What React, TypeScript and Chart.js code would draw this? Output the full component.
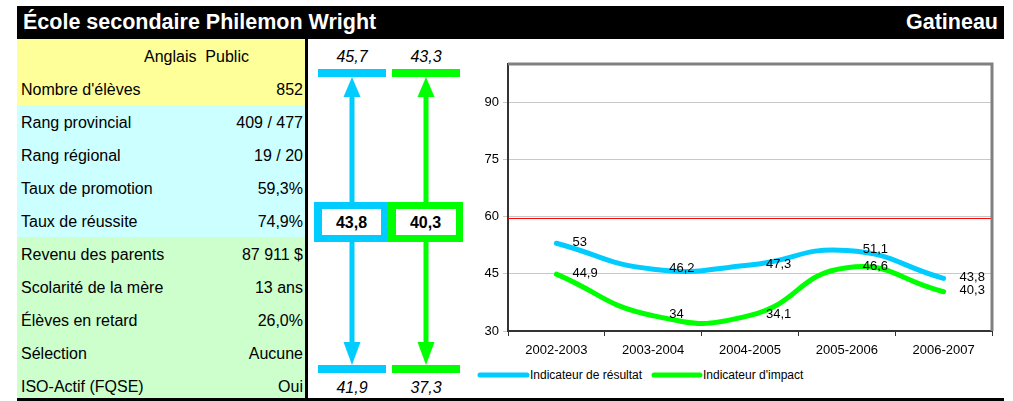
import React, { useEffect, useRef } from "react";
import { Chart, registerables } from "chart.js";

Chart.register(...registerables);

// ---------- data ----------
const schoolName = "École secondaire Philemon Wright";
const region = "Gatineau";
const headerLabel = "Anglais  Public";
const tableLabels = [
  "Nombre d'élèves",
  "Rang provincial",
  "Rang régional",
  "Taux de promotion",
  "Taux de réussite",
  "Revenu des parents",
  "Scolarité de la mère",
  "Élèves en retard",
  "Sélection",
  "ISO-Actif (FQSE)",
];
const tableValues = [
  "852",
  "409 / 477",
  "19 / 20",
  "59,3%",
  "74,9%",
  "87 911 $",
  "13 ans",
  "26,0%",
  "Aucune",
  "Oui",
];
const tableColors = [
  "#FFFF99",
  "#CCFFFF",
  "#CCFFFF",
  "#CCFFFF",
  "#CCFFFF",
  "#CCFFCC",
  "#CCFFCC",
  "#CCFFCC",
  "#CCFFCC",
  "#CCFFCC",
];

const indicatorUpper = [45.7, 43.3];
const indicatorCurrent = [43.8, 40.3];
const indicatorLower = [41.9, 37.3];

const categories = ["2002-2003", "2003-2004", "2004-2005", "2005-2006", "2006-2007"];
const resultat = [53, 46.2, 47.3, 51.1, 43.8];
const impact = [44.9, 34, 34.1, 46.6, 40.3];
const seriesNames = ["Indicateur de résultat", "Indicateur d'impact"];
const seriesColors = ["#00CCFF", "#00FF00"];
const yTicks = [30, 45, 60, 75, 90];
const yMin = 30;
const yMax = 100;
const referenceLine = 59.5;

const FONT = "'Liberation Sans', Arial, Helvetica, sans-serif";
const fmt = (v: number) => String(v).replace(".", ",");

const LineChart: React.FC = () => {
  const ref = useRef<HTMLCanvasElement | null>(null);
  useEffect(() => {
    if (!ref.current) return;
    const labelPlugin = {
      id: "valueLabels",
      afterDatasetsDraw(chart: any) {
        const ctx = chart.ctx;
        ctx.save();
        ctx.font = `13px ${FONT}`;
        ctx.fillStyle = "#000";
        ctx.textAlign = "left";
        ctx.textBaseline = "middle";
        chart.data.datasets.forEach((ds: any, i: number) => {
          const meta = chart.getDatasetMeta(i);
          meta.data.forEach((pt: any, j: number) => {
            ctx.fillText(fmt(ds.data[j]), pt.x + 16, pt.y - 1);
          });
        });
        ctx.restore();
      },
    };
    const framePlugin = {
      id: "frame",
      beforeDatasetsDraw(chart: any) {
        const { ctx, chartArea, scales } = chart;
        const y = scales.y.getPixelForValue(referenceLine);
        ctx.save();
        ctx.strokeStyle = "#FF0000";
        ctx.lineWidth = 1;
        ctx.beginPath();
        ctx.moveTo(chartArea.left, y);
        ctx.lineTo(chartArea.right, y);
        ctx.stroke();
        ctx.restore();
      },
      afterDraw(chart: any) {
        const { ctx, chartArea } = chart;
        ctx.save();
        ctx.strokeStyle = "#808080";
        ctx.lineWidth = 3;
        ctx.beginPath();
        ctx.moveTo(chartArea.left, chartArea.top);
        ctx.lineTo(chartArea.right, chartArea.top);
        ctx.lineTo(chartArea.right, chartArea.bottom);
        ctx.stroke();
        ctx.restore();
      },
    };
    const chart = new Chart(ref.current, {
      type: "line",
      data: {
        labels: categories,
        datasets: [
          {
            label: seriesNames[0],
            data: resultat,
            borderColor: seriesColors[0],
            backgroundColor: seriesColors[0],
            borderWidth: 5,
            tension: 0.5,
            pointRadius: 0,
            borderCapStyle: "round",
            fill: false,
          },
          {
            label: seriesNames[1],
            data: impact,
            borderColor: seriesColors[1],
            backgroundColor: seriesColors[1],
            borderWidth: 5,
            tension: 0.5,
            pointRadius: 0,
            borderCapStyle: "round",
            fill: false,
          },
        ],
      },
      options: {
        animation: false,
        responsive: false,
        maintainAspectRatio: false,
        layout: { padding: { top: 24, right: 12, left: 0, bottom: 0 } },
        plugins: { legend: { display: false }, tooltip: { enabled: false } },
        scales: {
          x: {
            type: "category",
            offset: true,
            grid: {
              offset: true,
              drawOnChartArea: false,
              drawTicks: true,
              tickLength: 5,
              color: "#333",
              lineWidth: 1,
            },
            border: { display: true, color: "#333", width: 2 },
            ticks: { color: "#000", font: { family: FONT, size: 13 }, padding: 7, maxRotation: 0 },
            afterFit: (s: any) => {
              s.height = 67;
            },
          },
          y: {
            min: yMin,
            max: yMax,
            afterBuildTicks: (s: any) => {
              s.ticks = yTicks.map((v) => ({ value: v }));
            },
            grid: { color: "#C8C8C8", tickLength: 5, lineWidth: 1 },
            border: { display: true, color: "#333", width: 2 },
            ticks: { color: "#000", font: { family: FONT, size: 13 }, padding: 4 },
            afterFit: (s: any) => {
              s.width = 38;
            },
          },
        },
      },
      plugins: [labelPlugin, framePlugin],
    } as any);
    return () => chart.destroy();
  }, []);
  return (
    <canvas
      ref={ref}
      width={534}
      height={358}
      style={{ position: "absolute", left: 470, top: 40, width: 534, height: 358 }}
    />
  );
};

const App: React.FC = () => {
  const rowH = 33;
  const cx = [352, 426];
  const boxX = [314, 388];
  const boxW = [74, 75];
  return (
    <div
      style={{
        position: "absolute",
        left: 0,
        top: 0,
        width: 1013,
        height: 401,
        background: "#fff",
        fontFamily: FONT,
        overflow: "hidden",
      }}
    >
      {/* title bar */}
      <div
        style={{
          position: "absolute",
          left: 17,
          top: 6,
          width: 987,
          height: 33,
          background: "#000",
          color: "#fff",
          fontWeight: "bold",
          fontSize: 21.5,
        }}
      >
        <span style={{ position: "absolute", left: 6, top: 4, lineHeight: "25px", whiteSpace: "nowrap" }}>
          {schoolName}
        </span>
        <span style={{ position: "absolute", right: 6, top: 4, lineHeight: "25px" }}>{region}</span>
      </div>
      {/* table */}
      <div
        style={{
          position: "absolute",
          left: 17,
          top: 39,
          width: 288,
          height: 359,
          fontSize: 16,
          overflow: "hidden",
        }}
      >
        <div
          style={{
            position: "absolute",
            left: 0,
            top: 0,
            width: 288,
            height: rowH,
            background: "#FFFF99",
          }}
        >
          <span style={{ position: "absolute", left: 127, top: 1, lineHeight: `${rowH}px`, whiteSpace: "pre" }}>
            {headerLabel}
          </span>
        </div>
        {tableLabels.map((lab, i) => (
          <div
            key={lab}
            style={{
              position: "absolute",
              left: 0,
              top: rowH * (i + 1),
              width: 288,
              height: rowH,
              background: tableColors[i],
            }}
          >
            <span style={{ position: "absolute", left: 4, top: 1, lineHeight: `${rowH}px` }}>{lab}</span>
            <span style={{ position: "absolute", right: 2, top: 1, lineHeight: `${rowH}px` }}>{tableValues[i]}</span>
          </div>
        ))}
      </div>
      {/* black separators */}
      <div style={{ position: "absolute", left: 305, top: 39, width: 3, height: 360, background: "#000" }} />
      <div style={{ position: "absolute", left: 17, top: 398, width: 987, height: 3, background: "#000" }} />
      {/* indicator arrows */}
      <svg
        width={1013}
        height={401}
        style={{ position: "absolute", left: 0, top: 0 }}
        fontFamily={FONT}
      >
        {[0, 1].map((i) => (
          <g key={i}>
            <text x={cx[i]} y={62} textAnchor="middle" fontSize={16} fontStyle="italic" fill="#000">
              {fmt(indicatorUpper[i])}
            </text>
            <rect x={cx[i] - 34} y={69} width={68} height={8} fill={seriesColors[i]} />
            <polygon points={`${cx[i]},77 ${cx[i] - 8.5},97 ${cx[i] + 8.5},97`} fill={seriesColors[i]} />
            <rect x={cx[i] - 2.5} y={96} width={5} height={108} fill={seriesColors[i]} />
            <rect x={boxX[i]} y={202} width={boxW[i]} height={40} fill={seriesColors[i]} />
            <rect x={boxX[i] + 8} y={209} width={boxW[i] - 15} height={26} fill="#fff" />
            <text x={cx[i] - 0.5} y={228} textAnchor="middle" fontSize={16} fontWeight="bold" fill="#000">
              {fmt(indicatorCurrent[i])}
            </text>
            <rect x={cx[i] - 2.5} y={241} width={5} height={102} fill={seriesColors[i]} />
            <polygon points={`${cx[i]},365 ${cx[i] - 8.5},342 ${cx[i] + 8.5},342`} fill={seriesColors[i]} />
            <rect x={cx[i] - 34} y={365} width={68} height={8} fill={seriesColors[i]} />
            <text x={cx[i]} y={393} textAnchor="middle" fontSize={16} fontStyle="italic" fill="#000">
              {fmt(indicatorLower[i])}
            </text>
          </g>
        ))}
        {/* legend */}
        <line x1={480} y1={375} x2={527} y2={375} stroke={seriesColors[0]} strokeWidth={5} strokeLinecap="round" />
        <text x={530} y={379} fontSize={12} fill="#000">
          {seriesNames[0]}
        </text>
        <line x1={654} y1={375} x2={700} y2={375} stroke={seriesColors[1]} strokeWidth={5} strokeLinecap="round" />
        <text x={703} y={379} fontSize={12} fill="#000">
          {seriesNames[1]}
        </text>
      </svg>
      <LineChart />
    </div>
  );
};

export default App;
